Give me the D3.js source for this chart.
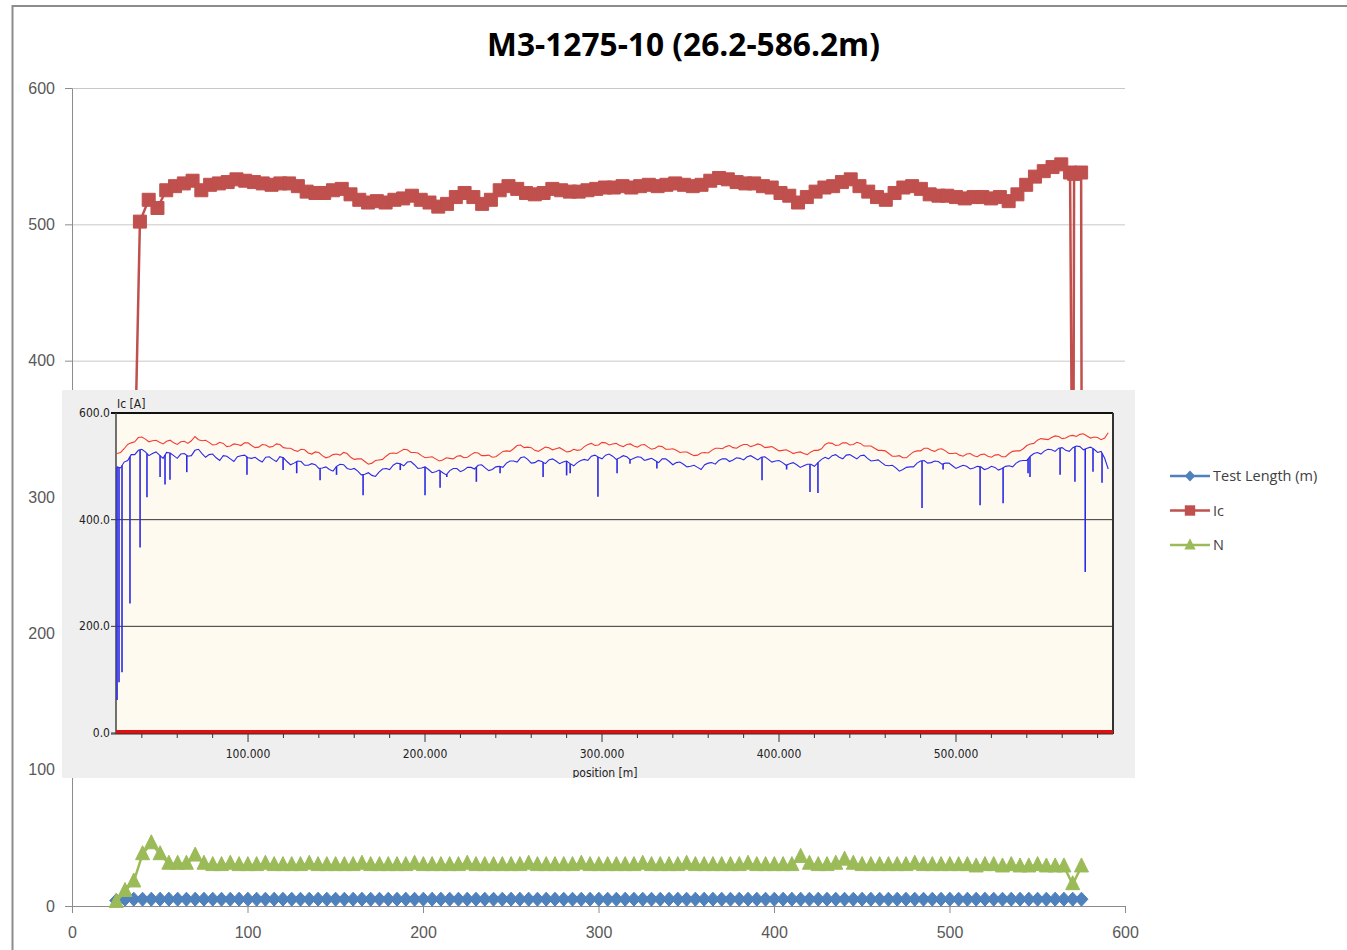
<!DOCTYPE html>
<html>
<head>
<meta charset="utf-8">
<script src="https://cdn.jsdelivr.net/npm/d3@7"></script>
<style>
  body { margin: 0; background: #fff; }
  svg { display: block; }
</style>
</head>
<body>
<svg id="chart" width="1347" height="950"></svg>
<script>
/******************************** DONNEES : graphique Excel ********************************/
var titleText = "M3-1275-10 (26.2-586.2m)";
var mainTicks = [0, 100, 200, 300, 400, 500, 600];
var seriesNames = ["Test Length (m)", "Ic", "N"];

// positions (m) des series Test Length et N, pas de 5 m
var mainPos = d3.range(25.2, 576, 5);
var testLength = [4, 5, 5, 5, 5, 5, 5, 5, 5, 5,
  5, 5, 5, 5, 5, 5, 5, 5, 5, 5,
  5, 5, 5, 5, 5, 5, 5, 5, 5, 5,
  5, 5, 5, 5, 5, 5, 5, 5, 5, 5,
  5, 5, 5, 5, 5, 5, 5, 5, 5, 5,
  5, 5, 5, 5, 5, 5, 5, 5, 5, 5,
  5, 5, 5, 5, 5, 5, 5, 5, 5, 5,
  5, 5, 5, 5, 5, 5, 5, 5, 5, 5,
  5, 5, 5, 5, 5, 5, 5, 5, 5, 5,
  5, 5, 5, 5, 5, 5, 5, 5, 5, 5,
  5, 5, 5, 5, 5, 5, 5, 5, 5, 5,
  5];
var nVal = [3, 11, 18, 38, 46, 38, 31, 31, 31, 37,
  31, 30, 30, 31, 30, 30, 30, 31, 30, 30,
  30, 30, 31, 30, 30, 30, 30, 30, 31, 30,
  30, 30, 30, 30, 31, 30, 30, 30, 30, 30,
  31, 30, 30, 30, 30, 30, 30, 31, 30, 30,
  30, 30, 30, 31, 30, 30, 30, 30, 30, 30,
  31, 30, 30, 30, 30, 31, 30, 30, 30, 30,
  30, 30, 31, 30, 30, 30, 30, 30, 36, 31,
  30, 30, 31, 34, 31, 30, 30, 30, 30, 30,
  30, 31, 30, 30, 30, 30, 30, 30, 29, 30,
  30, 29, 30, 29, 29, 30, 29, 29, 29, 16,
  29];

// Ic : positions propres (chutes au debut et a la fin)
var icPos = d3.range(33.7, 569, 5).concat([570.4, 571.0, 575.0, 575.5]);
var icVal = [200, 502, 518, 512, 525, 528, 530, 532, 525, 529,
  530, 531, 533, 532, 531, 530, 529, 530, 530, 528,
  524, 523, 523, 525, 526, 522, 518, 516, 517, 516,
  518, 519, 521, 518, 516, 513, 515, 520, 523, 520,
  515, 518, 525, 528, 526, 523, 522, 523, 526, 525,
  524, 524, 525, 526, 527, 527, 528, 527, 528, 529,
  528, 529, 530, 529, 528, 529, 532, 534, 533, 531,
  530, 530, 528, 527, 523, 521, 516, 520, 524, 527,
  528, 531, 533, 528, 524, 520, 518, 523, 527, 528,
  526, 522, 521, 521, 520, 519, 520, 520, 519, 520,
  517, 522, 529, 535, 539, 542, 544, 538,
  200, 537, 538, 200];

/******************************** DONNEES : image incrustee ********************************/
// releve tous les 2 m
var insetPos = d3.range(26, 587, 2);
var insetRed = [
  524, 526, 533, 541, 544, 546, 554, 555, 551, 546,
  548, 549, 545, 542, 547, 549, 544, 541, 546, 547,
  543, 548, 556, 550, 548, 549, 545, 540, 541, 545,
  543, 537, 538, 542, 541, 539, 544, 544, 539, 535,
  536, 541, 540, 536, 537, 542, 541, 535, 534, 534,
  530, 528, 532, 531, 525, 523, 527, 526, 520, 516,
  518, 522, 523, 521, 526, 524, 517, 513, 514, 514,
  509, 504, 506, 511, 512, 513, 519, 524, 525, 524,
  528, 532, 531, 526, 526, 525, 520, 516, 517, 518,
  514, 510, 512, 516, 515, 514, 519, 520, 516, 517,
  522, 526, 525, 520, 520, 521, 517, 518, 523, 528,
  529, 528, 533, 539, 540, 535, 536, 535, 530, 528,
  532, 536, 535, 531, 533, 535, 531, 527, 528, 532,
  530, 531, 537, 541, 543, 539, 540, 545, 544, 540,
  542, 543, 539, 537, 541, 542, 538, 536, 540, 541,
  536, 532, 534, 538, 537, 532, 532, 533, 530, 526,
  527, 527, 523, 520, 521, 525, 526, 525, 530, 534,
  534, 533, 537, 539, 535, 534, 538, 541, 541, 537,
  539, 542, 540, 535, 536, 537, 533, 529, 530, 531,
  528, 524, 526, 527, 524, 522, 527, 530, 530, 533,
  541, 544, 543, 539, 540, 544, 544, 540, 541, 545,
  543, 538, 538, 538, 534, 530, 530, 529, 524, 519,
  519, 520, 516, 516, 522, 527, 529, 529, 534, 534,
  530, 528, 532, 533, 529, 524, 524, 525, 521, 519,
  523, 524, 520, 518, 522, 523, 519, 517, 521, 522,
  518, 518, 524, 528, 529, 529, 533, 539, 542, 543,
  549, 552, 551, 550, 554, 557, 556, 552, 553, 557,
  558, 556, 560, 561, 557, 553, 555, 554, 550, 553,
  563];
var insetBlue = [
  499, 497, 508, 511, 522, 522, 530, 532, 527, 520,
  524, 527, 521, 515, 526, 525, 520, 515, 523, 524,
  519, 520, 530, 532, 524, 517, 522, 523, 516, 511,
  520, 519, 514, 509, 518, 520, 521, 516, 515, 517,
  512, 508, 517, 518, 513, 509, 518, 516, 509, 503,
  506, 510, 509, 502, 502, 505, 503, 496, 497, 499,
  494, 491, 500, 504, 503, 496, 494, 496, 491, 484,
  485, 488, 483, 481, 489, 495, 496, 494, 502, 506,
  505, 501, 508, 509, 503, 496, 497, 499, 494, 488,
  490, 493, 488, 484, 492, 496, 496, 490, 493, 498,
  498, 495, 502, 503, 497, 492, 494, 499, 500, 498,
  506, 510, 510, 508, 516, 518, 513, 506, 507, 511,
  509, 505, 512, 514, 510, 505, 508, 510, 505, 501,
  507, 511, 513, 511, 519, 521, 517, 514, 521, 523,
  519, 513, 516, 520, 518, 512, 515, 518, 517, 511,
  513, 515, 511, 507, 514, 514, 509, 503, 507, 508,
  504, 499, 500, 502, 498, 494, 503, 506, 507, 504,
  511, 514, 514, 509, 512, 516, 515, 512, 518, 520,
  516, 512, 517, 518, 513, 508, 510, 511, 507, 502,
  505, 507, 503, 498, 501, 504, 504, 500, 507, 513,
  517, 514, 520, 522, 517, 514, 521, 522, 518, 514,
  520, 521, 515, 510, 511, 512, 507, 502, 501, 502,
  497, 491, 494, 498, 499, 499, 506, 510, 511, 506,
  507, 510, 509, 504, 506, 506, 501, 496, 499, 502,
  500, 495, 497, 500, 499, 494, 496, 500, 498, 493,
  496, 500, 501, 499, 506, 510, 511, 511, 519, 524,
  526, 523, 529, 532, 531, 528, 534, 535, 530, 528,
  535, 538, 537, 531, 534, 536, 532, 526, 528, 515,
  495];
// pics vers le bas de la courbe bleue
var spikePos = [26.0, 27.1, 28.8, 33.3, 39.0, 42.9, 50.3, 53.1, 55.9, 65.4,
  99.4, 119.8, 127.5, 140.7, 150, 165, 186, 200, 208.5, 212.3,
  229, 242.4, 266.7, 280, 282, 297.7, 308.5, 315.8, 331, 390.4,
  404.3, 417.5, 422, 466.5, 480.8, 492.7, 513.6, 526.6, 540.7, 541.8,
  558.8, 567.2, 573, 577.4, 582.5];
var spikeMin = [62, 95, 114, 243, 348, 442, 480, 466, 475, 489,
  484, 493, 487, 474, 484, 446, 493, 446, 460, 480,
  471, 487, 480, 483, 487, 443, 487, 505, 496, 474,
  494, 452, 450, 496, 422, 494, 427, 431, 487, 480,
  484, 471, 302, 490, 469];
var insetYTicks = [0, 200, 400, 600];
var insetXTicks = [100, 200, 300, 400, 500];
var insetMinorTicks = d3.range(40, 590, 20);

/******************************** COULEURS ********************************/
var cBlue = "#4F81BD", cRed = "#C0504D", cGreen = "#9BBB59";
var seriesColors = [cBlue, cRed, cGreen];
var narrowFont = "'Liberation Sans Narrow', 'DejaVu Sans Condensed', sans-serif";

var svg = d3.select("#chart");

// cadre gris du graphique
svg.append("rect")
  .attr("x", 12.5).attr("y", 6)
  .attr("width", 1400).attr("height", 1000)
  .style("fill", "#fff")
  .style("stroke", "#8c8c8c")
  .style("stroke-width", 2);

// titre
var title = svg.append("text")
  .attr("x", 683.5).attr("y", 56)
  .attr("text-anchor", "middle")
  .style("font-family", "'Open Sans', sans-serif")
  .style("font-weight", "bold")
  .style("font-size", "26px")
  .style("fill", "#000")
  .text(titleText);
var tw = title.node().getComputedTextLength();
title.style("font-size", (26 * 393 / tw) + "px");

/******************************** GRAPHIQUE PRINCIPAL ********************************/
var x = d3.scaleLinear().domain([0, 600]).range([72, 1125]);
var y = d3.scaleLinear().domain([0, 600]).range([906, 88]);

// quadrillage horizontal
svg.append("g")
  .attr("transform", "translate(72,0)")
  .call(d3.axisLeft(y).tickValues(mainTicks.slice(1)).tickSize(-1053).tickFormat(""))
  .call(g => g.select(".domain").remove())
  .selectAll("line")
  .style("stroke", "#c8c8c8");

var yAxis = svg.append("g")
  .attr("transform", "translate(72,0)")
  .call(d3.axisLeft(y).tickValues(mainTicks).tickSize(7).tickPadding(10).tickSizeOuter(0));
var xAxis = svg.append("g")
  .attr("transform", "translate(0,906)")
  .call(d3.axisBottom(x).tickValues(mainTicks).tickSize(7).tickPadding(10).tickSizeOuter(0));
[yAxis, xAxis].forEach(function(ax) {
  ax.selectAll("path, line").style("stroke", "#8c8c8c");
  ax.selectAll("text")
    .style("font-family", "'Liberation Sans', Arial, sans-serif")
    .style("font-size", "16px")
    .style("fill", "#595959");
});
xAxis.selectAll("text").attr("dy", "0.95em");

// formes des marqueurs
function markerPath(kind) {
  if (kind === "diamond") return "M0,-7L6.5,0L0,7L-6.5,0Z";
  if (kind === "square") return "M-6.5,-6.5H6.5V6.5H-6.5Z";
  return "M0,-8.5L7,5.5H-7Z";
}

function drawSeries(px, py, color, kind) {
  var pts = px.map(function(p, i) { return [p, py[i]]; });
  var line = d3.line().x(d => x(d[0])).y(d => y(d[1]));
  svg.append("path")
    .datum(pts)
    .attr("d", line)
    .style("fill", "none")
    .style("stroke", color)
    .style("stroke-width", 2.5)
    .style("stroke-linejoin", "round");
  svg.append("g")
    .selectAll("path")
    .data(pts)
    .enter()
    .append("path")
    .attr("transform", d => "translate(" + x(d[0]) + "," + y(d[1]) + ")")
    .attr("d", markerPath(kind))
    .style("fill", color)
    .style("stroke", color)
    .style("stroke-width", 1);
}

drawSeries(mainPos, testLength, cBlue, "diamond");
drawSeries(icPos, icVal, cRed, "square");
drawSeries(mainPos, nVal, cGreen, "triangle");

// legende
var legend = svg.append("g");
var legKinds = ["diamond", "square", "triangle"];
seriesNames.forEach(function(name, i) {
  var ly = 476 + i * 34.5;
  legend.append("line")
    .attr("x1", 1170).attr("x2", 1210)
    .attr("y1", ly).attr("y2", ly)
    .style("stroke", seriesColors[i])
    .style("stroke-width", 2.5);
  legend.append("path")
    .attr("transform", "translate(1190," + ly + ") scale(0.8)")
    .attr("d", markerPath(legKinds[i]))
    .style("fill", seriesColors[i]);
  legend.append("text")
    .attr("x", 1213).attr("y", ly + 5)
    .style("font-family", "'Open Sans', sans-serif")
    .style("font-size", "14.5px")
    .style("fill", "#404040")
    .text(name);
});

/******************************** IMAGE INCRUSTEE ********************************/
svg.append("clipPath").attr("id", "insetClip")
  .append("rect")
  .attr("x", 62).attr("y", 390).attr("width", 1073).attr("height", 388);

var inset = svg.append("g").attr("clip-path", "url(#insetClip)");

inset.append("rect")
  .attr("x", 62).attr("y", 390).attr("width", 1073).attr("height", 388)
  .style("fill", "#efefef");

var ix = d3.scaleLinear().domain([25.4, 588.7]).range([116, 1113]);
var iy = d3.scaleLinear().domain([0, 600]).range([733, 413]);

inset.append("rect")
  .attr("x", 116).attr("y", 413).attr("width", 997).attr("height", 320)
  .style("fill", "#fffaf0");

// lignes horizontales noires
inset.append("g")
  .selectAll("line")
  .data(insetYTicks)
  .enter()
  .append("line")
  .attr("x1", 111).attr("x2", 1113)
  .attr("y1", d => iy(d)).attr("y2", d => iy(d))
  .style("stroke", d => d === 600 ? "#111" : "#333")
  .style("stroke-width", d => d === 600 ? 2 : 1);

inset.append("g")
  .selectAll("text")
  .data(insetYTicks)
  .enter()
  .append("text")
  .attr("x", 110).attr("y", d => iy(d) + 4)
  .attr("text-anchor", "end")
  .style("font-family", narrowFont)
  .style("font-size", "12px")
  .style("fill", "#222")
  .text(d => d.toFixed(1));

inset.append("text")
  .attr("x", 117).attr("y", 408)
  .style("font-family", narrowFont)
  .style("font-size", "12px")
  .style("fill", "#222")
  .text("Ic [A]");

// bords du cadre
inset.append("line")
  .attr("x1", 116).attr("x2", 116).attr("y1", 413).attr("y2", 734)
  .style("stroke", "#444").style("stroke-width", 1.5);
inset.append("line")
  .attr("x1", 1113).attr("x2", 1113).attr("y1", 413).attr("y2", 734)
  .style("stroke", "#333").style("stroke-width", 2);

// courbes rouge et bleue
var iline = d3.line().x(d => ix(d[0])).y(d => iy(d[1]));
var bluePts = insetPos.map((p, i) => [p, insetBlue[i]]);
var redPts = insetPos.map((p, i) => [p, insetRed[i]]);

inset.append("path")
  .datum(bluePts)
  .attr("d", iline)
  .style("fill", "none")
  .style("stroke", "#2a2ae6")
  .style("stroke-width", 1.1);

function blueAt(p) {
  var i = d3.bisectRight(insetPos, p);
  i = Math.max(1, Math.min(insetPos.length - 1, i));
  var t = (p - insetPos[i - 1]) / (insetPos[i] - insetPos[i - 1]);
  return insetBlue[i - 1] + t * (insetBlue[i] - insetBlue[i - 1]);
}

inset.append("g")
  .selectAll("line")
  .data(spikePos)
  .enter()
  .append("line")
  .attr("x1", d => ix(d)).attr("x2", d => ix(d))
  .attr("y1", d => iy(blueAt(d))).attr("y2", (d, i) => iy(spikeMin[i]))
  .style("stroke", "#2a2ae6")
  .style("stroke-width", 1.6);

inset.append("path")
  .datum(redPts)
  .attr("d", iline)
  .style("fill", "none")
  .style("stroke", "#f23c32")
  .style("stroke-width", 1.1);

// ligne rouge epaisse a zero
inset.append("line")
  .attr("x1", 116).attr("x2", 1113)
  .attr("y1", iy(0) - 1).attr("y2", iy(0) - 1)
  .style("stroke", "#e01010")
  .style("stroke-width", 4);
inset.append("line")
  .attr("x1", 111).attr("x2", 1113)
  .attr("y1", iy(0) + 1).attr("y2", iy(0) + 1)
  .style("stroke", "#333")
  .style("stroke-width", 1);

// graduations axe x
inset.append("g")
  .selectAll("line")
  .data(insetMinorTicks)
  .enter()
  .append("line")
  .attr("x1", d => ix(d)).attr("x2", d => ix(d))
  .attr("y1", 734).attr("y2", d => d % 100 === 0 ? 742 : 738)
  .style("stroke", "#333");

inset.append("g")
  .selectAll("text")
  .data(insetXTicks)
  .enter()
  .append("text")
  .attr("x", d => ix(d)).attr("y", 758)
  .attr("text-anchor", "middle")
  .style("font-family", narrowFont)
  .style("font-size", "12px")
  .style("fill", "#222")
  .text(d => d.toFixed(3));

inset.append("text")
  .attr("x", 605).attr("y", 777)
  .attr("text-anchor", "middle")
  .style("font-family", narrowFont)
  .style("font-size", "12px")
  .style("fill", "#222")
  .text("position [m]");
</script>
</body>
</html>
